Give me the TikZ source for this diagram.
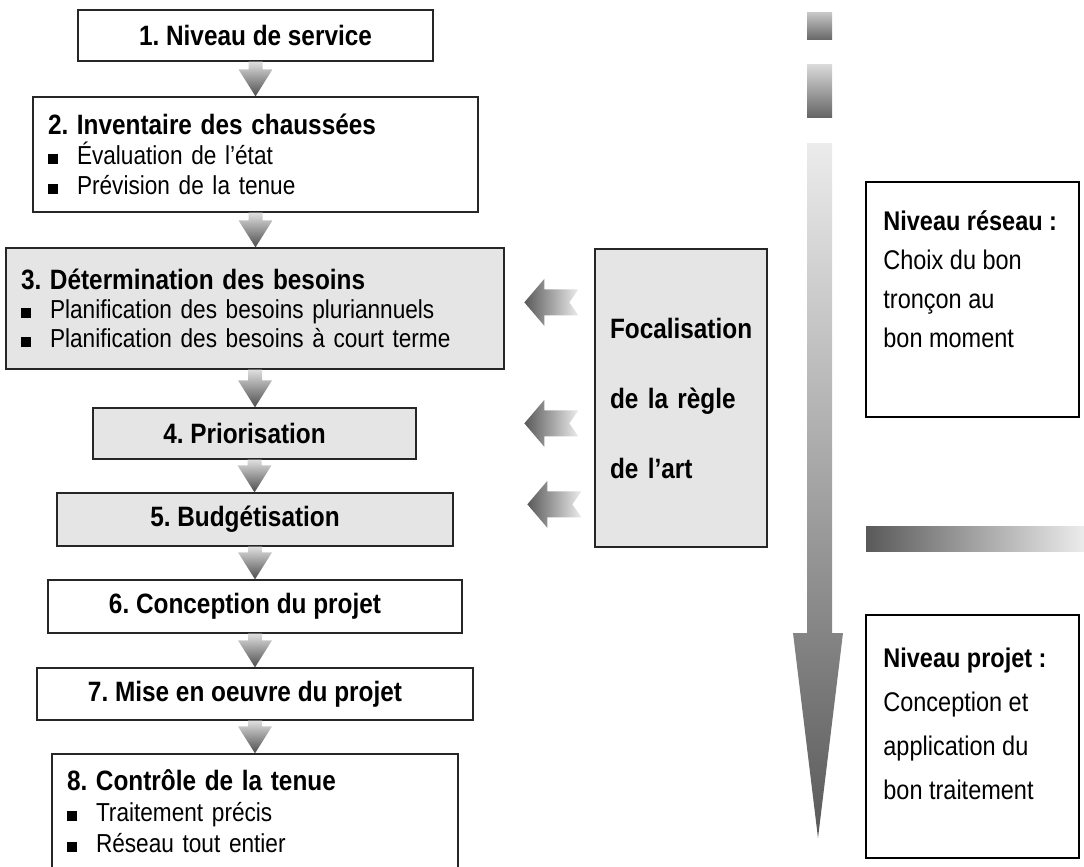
\documentclass[tikz,border=0pt]{standalone}
\usepackage{fontspec}
\setmainfont{Liberation Sans}[FakeStretch=0.87]
\usetikzlibrary{calc}

\frenchspacing
\newcommand{\puce}{\makebox[29pt][l]{\rule[1pt]{10pt}{10pt}}}
\newcommand{\agauche}{\hspace*{-20pt}}

\begin{document}
\begin{tikzpicture}[x=1pt, y=-1pt,
  etape/.style={draw=black!85, line width=1.3pt, fill=white, inner sep=0pt, align=center, font=\fontsize{28}{30}\selectfont\bfseries},
  liste/.style={align=left, inner xsep=15pt, font=\fontsize{26}{30}\selectfont},
  grise/.style={fill=gray!20},
  niveau/.style={draw=black, line width=1.6pt, fill=white, minimum width=213pt, inner sep=0pt},
  fleche/.style={top color=gray!25, bottom color=black!70},
  flechegauche/.style={left color=black!65, right color=gray!15}]

\useasboundingbox (0,0) rectangle (1084,867);

% Nodes
\node (b1) [etape, minimum width=355pt, minimum height=51pt] at (255.5,35.5) {1. Niveau de service};
\node (b2) [etape, liste, text width=415pt, minimum height=115pt] at (255.5,154.5) {{\bfseries\fontsize{28}{30}\selectfont 2. Inventaire des chaussées}\\ \puce Évaluation de l'état\\ \puce Prévision de la tenue};
\node (b3) [etape, grise, liste, text width=468pt, minimum height=121pt, font=\fontsize{26}{29}\selectfont] at (255,308.5) {{\bfseries\fontsize{28}{29}\selectfont 3. Détermination des besoins}\\ \puce Planification des besoins pluriannuels\\ \puce Planification des besoins à court terme};
\node (b4) [etape, grise, minimum width=323pt, minimum height=51pt] at (254.5,433.5) {\agauche 4. Priorisation};
\node (b5) [etape, grise, minimum width=396pt, minimum height=53pt] at (255,519.5) {\agauche 5. Budgétisation};
\node (b6) [etape, minimum width=414pt, minimum height=53pt] at (255,606.5) {\agauche 6. Conception du projet};
\node (b7) [etape, minimum width=436pt, minimum height=52pt] at (255,694) {\agauche 7. Mise en oeuvre du projet};
\node (b8) [etape, liste, text width=376pt, minimum height=115pt, font=\fontsize{26}{31}\selectfont] at (255,811.5) {{\bfseries\fontsize{28}{31}\selectfont 8. Contrôle de la tenue}\\ \puce Traitement précis\\ \puce Réseau tout entier};

\node (foc) [etape, grise, minimum width=172pt, minimum height=298pt, text width=142pt, align=left, font=\fontsize{28}{70}\selectfont\bfseries] at (681,398) {Focalisation\\ de la règle\\ de l'art};

\node (reseau) [niveau, minimum height=235pt] at (972.5,299.5) {};
\node (reseautxt) [anchor=north west, align=left, inner sep=0pt, font=\fontsize{27}{39}\selectfont] at ($(reseau.north west)+(18,29)$) {\textbf{Niveau réseau :}\\ Choix du bon\\ tronçon au\\ bon moment};
\node (projet) [niveau, minimum height=243pt] at (972.5,736.5) {};
\node (projettxt) [anchor=north west, align=left, inner sep=0pt, font=\fontsize{27}{44}\selectfont] at ($(projet.north west)+(18,34)$) {\textbf{Niveau projet :}\\ Conception et\\ application du\\ bon traitement};

% Arrows
\foreach \a/\b in {b1/b2, b2/b3, b3/b4, b4/b5, b5/b6, b6/b7, b7/b8}
  \path[fleche] let \p1=(\a.south), \p2=(\b.north) in
    (\x1-7pt,\y1) -- (\x1+7pt,\y1) -- (\x1+7pt,\y2+27pt) -- (\x1+17pt,\y2+27pt)
    -- (\x1,\y2) -- (\x1-17pt,\y2+27pt) -- (\x1-7pt,\y2+27pt) -- cycle;

\coordinate (q1) at ($(foc.north west)+(-16,54)$);
\coordinate (q2) at ($(foc.north west)+(-16,175)$);
\coordinate (q3) at ($(foc.north west)+(-13,256)$);
\foreach \q in {q1,q2,q3}
  \path[flechegauche] let \p1=(\q) in
    (\x1,\y1+13pt) -- (\x1-34pt,\y1+13pt) -- (\x1-34pt,\y1+23.5pt) -- (\x1-54pt,\y1)
    -- (\x1-34pt,\y1-23.5pt) -- (\x1-34pt,\y1-13pt) -- (\x1,\y1-13pt) -- (\x1-9pt,\y1) -- cycle;

% Levels
\shade[top color=gray!45, bottom color=black!60] (807,13) rectangle (832,40);
\shade[top color=gray!30, bottom color=black!60] (807,65) rectangle (832,117);
\shade[top color=gray!15, bottom color=black!65] (807,143) -- (832,143) -- (832,633) -- (843,633)
  -- (818,838) -- (793,633) -- (807,633) -- cycle;
\shade[left color=black!65, right color=gray!15] (866,526) rectangle (1084,551);

\end{tikzpicture}
\end{document}
